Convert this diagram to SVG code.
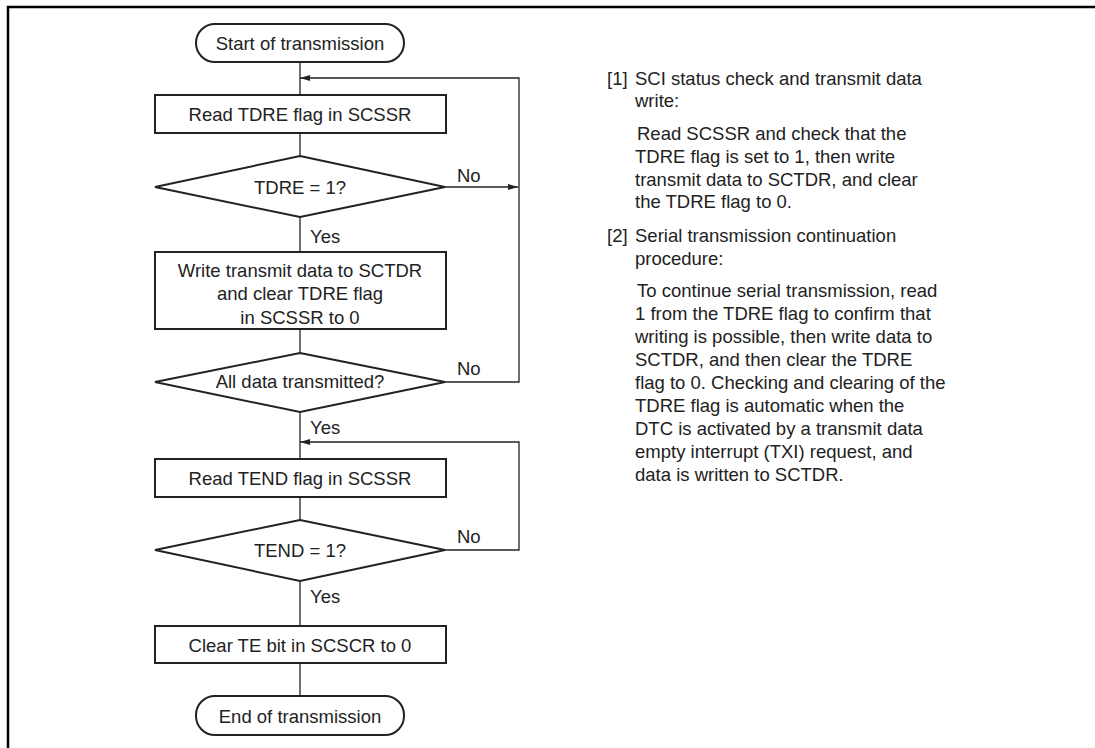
<svg xmlns="http://www.w3.org/2000/svg" width="1095" height="748" viewBox="0 0 1095 748">
<style>
  .shape { fill: #fff; stroke: #222; stroke-width: 2; }
  .conn { fill: none; stroke: #222; stroke-width: 1.3; }
  text { font-family: "Liberation Sans", Arial, sans-serif; font-size: 18.5px; fill: #222; }
  .c { text-anchor: middle; }
</style>
<defs>
  <marker id="arr" viewBox="0 0 10 8" refX="10" refY="4" markerWidth="10" markerHeight="8" markerUnits="userSpaceOnUse" orient="auto">
    <path d="M0,1 L10,4 L0,7 Z" fill="#222"/>
  </marker>
</defs>
<rect width="1095" height="748" fill="#fff"/>
<path d="M8,748 V7 H1095" fill="none" stroke="#000" stroke-width="2.5"/>

<g id="connectors">
  <line class="conn" x1="300" y1="62" x2="300" y2="95"/>
  <line class="conn" x1="300" y1="133" x2="300" y2="156"/>
  <line class="conn" x1="300" y1="217" x2="300" y2="252"/>
  <line class="conn" x1="300" y1="329" x2="300" y2="353"/>
  <line class="conn" x1="300" y1="412" x2="300" y2="459"/>
  <line class="conn" x1="300" y1="497" x2="300" y2="520"/>
  <line class="conn" x1="300" y1="581" x2="300" y2="626"/>
  <line class="conn" x1="300" y1="663" x2="300" y2="696"/>
  <line class="conn" x1="445" y1="187" x2="518" y2="187" marker-end="url(#arr)"/>
  <polyline class="conn" points="445,382 519,382 519,78 300,78" marker-end="url(#arr)"/>
  <polyline class="conn" points="445,550 519,550 519,442 300,442" marker-end="url(#arr)"/>
  <text x="457" y="182">No</text>
  <text x="457" y="375">No</text>
  <text x="457" y="543">No</text>
  <text x="310" y="243">Yes</text>
  <text x="310" y="434">Yes</text>
  <text x="310" y="603">Yes</text>
</g>

<g id="start">
  <rect class="shape" x="196" y="24" width="208" height="38" rx="19" ry="19"/>
  <text class="c" x="300" y="49.5">Start of transmission</text>
</g>
<g id="read-tdre">
  <rect class="shape" x="155" y="95" width="291" height="38"/>
  <text class="c" x="300" y="120.5">Read TDRE flag in SCSSR</text>
</g>
<g id="tdre-check">
  <polygon class="shape" points="300,156 445,187 300,217 155,187"/>
  <text class="c" x="300" y="193.5">TDRE = 1?</text>
</g>
<g id="write-data">
  <rect class="shape" x="155" y="252" width="291" height="77"/>
  <text class="c" x="300" y="276.5">Write transmit data to SCTDR</text>
  <text class="c" x="300" y="299.5">and clear TDRE flag</text>
  <text class="c" x="300" y="323.5">in SCSSR to 0</text>
</g>
<g id="all-data">
  <polygon class="shape" points="300,353 445,382 300,412 155,382"/>
  <text class="c" x="300" y="388">All data transmitted?</text>
</g>
<g id="read-tend">
  <rect class="shape" x="155" y="459" width="291" height="38"/>
  <text class="c" x="300" y="484.5">Read TEND flag in SCSSR</text>
</g>
<g id="tend-check">
  <polygon class="shape" points="300,520 445,550 300,581 155,550"/>
  <text class="c" x="300" y="556.5">TEND = 1?</text>
</g>
<g id="clear-te">
  <rect class="shape" x="155" y="626" width="291" height="37"/>
  <text class="c" x="300" y="651.5">Clear TE bit in SCSCR to 0</text>
</g>
<g id="end">
  <rect class="shape" x="196" y="696" width="208" height="39" rx="19" ry="19"/>
  <text class="c" x="300" y="723">End of transmission</text>
</g>

<g id="notes">
  <text x="607" y="85">[1]</text>
  <text x="635" y="85">SCI status check and transmit data</text>
  <text x="635" y="107">write:</text>
  <text x="637" y="139.5">Read SCSSR and check that the</text>
  <text x="635" y="163">TDRE flag is set to 1, then write</text>
  <text x="635" y="186">transmit data to SCTDR, and clear</text>
  <text x="635" y="208">the TDRE flag to 0.</text>
  <text x="607" y="241.5">[2]</text>
  <text x="635" y="241.5">Serial transmission continuation</text>
  <text x="635" y="264.5">procedure:</text>
  <text x="637" y="296.5">To continue serial transmission, read</text>
  <text x="635" y="319.5">1 from the TDRE flag to confirm that</text>
  <text x="635" y="343">writing is possible, then write data to</text>
  <text x="635" y="366">SCTDR, and then clear the TDRE</text>
  <text x="635" y="388.5">flag to 0. Checking and clearing of the</text>
  <text x="635" y="411.5">TDRE flag is automatic when the</text>
  <text x="635" y="434.5">DTC is activated by a transmit data</text>
  <text x="635" y="457.5">empty interrupt (TXI) request, and</text>
  <text x="635" y="480.5">data is written to SCTDR.</text>
</g>
</svg>
